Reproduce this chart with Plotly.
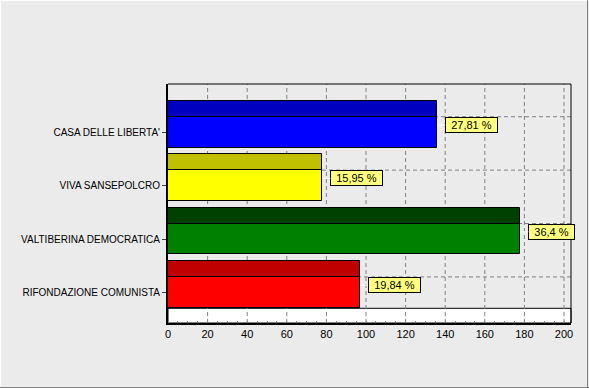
import plotly.graph_objects as go

categories = ["CASA DELLE LIBERTA'", "VIVA SANSEPOLCRO", "VALTIBERINA DEMOCRATICA", "RIFONDAZIONE COMUNISTA"]
values = [136, 78, 178, 97]
pct_labels = ["27,81 %", "15,95 %", "36,4 %", "19,84 %"]
front_colors = ["#0000FF", "#FFFF00", "#008000", "#FF0000"]
top_colors = ["#0000C0", "#C0C000", "#004000", "#C00000"]
x_ticks = [0, 20, 40, 60, 80, 100, 120, 140, 160, 180, 200]

W, H = 589, 388
ML, MR, MT, MB = 168, 18, 84, 65
PW, PH = W - ML - MR, H - MT - MB

idx = list(range(len(categories)))
depth = 0.44
FONT = "Liberation Sans, Arial, sans-serif"
GRID = dict(color="#808080", width=1, dash="4px,3px")
FLOOR = (323 - 308.3) / PH

fig = go.Figure()
# top (depth) faces
fig.add_trace(go.Bar(
    orientation="h", x=values, y=[i - depth for i in idx], width=0.30,
    marker=dict(color=top_colors, line=dict(color="black", width=1)),
    hoverinfo="skip", showlegend=False))
# front faces
fig.add_trace(go.Bar(
    orientation="h", x=values, y=idx, width=0.58,
    marker=dict(color=front_colors, line=dict(color="black", width=1)),
    hoverinfo="skip", showlegend=False))

shapes = []
# white floor
shapes.append(dict(type="rect", xref="x domain", yref="y domain", x0=0, x1=1, y0=0, y1=FLOOR,
                   fillcolor="white", line=dict(color="black", width=1), layer="below"))
# vertical gridlines
for t in x_ticks[1:]:
    shapes.append(dict(type="line", xref="x", yref="y domain", x0=t, x1=t, y0=0, y1=1,
                       line=GRID, layer="below"))
# horizontal back-wall gridlines
for i in idx:
    shapes.append(dict(type="line", xref="x domain", yref="y", x0=0, x1=1,
                       y0=i - 0.29, y1=i - 0.29, line=GRID, layer="below"))
# frame top / right
shapes.append(dict(type="line", xref="x domain", yref="y domain", x0=0, x1=1, y0=1, y1=1,
                   line=dict(color="black", width=1)))
shapes.append(dict(type="line", xref="x domain", yref="y domain", x0=1, x1=1, y0=0, y1=1,
                   line=dict(color="black", width=1)))

# outer bevel of the panel
def px2x(p):
    return (p - ML) / PW

def py2y(p):
    return (H - MB - p) / PH

shapes.append(dict(type="line", xref="paper", yref="paper", x0=px2x(0), x1=px2x(W), y0=py2y(0.5), y1=py2y(0.5),
                   line=dict(color="white", width=1)))
shapes.append(dict(type="line", xref="paper", yref="paper", x0=px2x(0.5), x1=px2x(0.5), y0=py2y(0), y1=py2y(H),
                   line=dict(color="white", width=1)))
shapes.append(dict(type="line", xref="paper", yref="paper", x0=px2x(0), x1=px2x(W), y0=py2y(387.5), y1=py2y(387.5),
                   line=dict(color="#808080", width=1)))
shapes.append(dict(type="line", xref="paper", yref="paper", x0=px2x(587.5), x1=px2x(587.5), y0=py2y(0), y1=py2y(H),
                   line=dict(color="#808080", width=1)))

annotations = []
for i, (v, t) in enumerate(zip(values, pct_labels)):
    annotations.append(dict(
        x=v, y=i - 0.135, xref="x", yref="y", text=t, showarrow=True,
        arrowhead=0, arrowcolor="white", arrowwidth=1, ax=8, ay=0,
        xanchor="left", yanchor="middle",
        width=(43 if len(t) < 7 else 49), height=12,
        bgcolor="#FFFF80", bordercolor="black", borderwidth=1, borderpad=1,
        font=dict(family=FONT, size=11, color="black")))

fig.update_layout(
    width=W, height=H,
    margin=dict(l=ML, r=MR, t=MT, b=MB, pad=0),
    paper_bgcolor="#EBEBEB", plot_bgcolor="rgba(0,0,0,0)",
    barmode="overlay", bargap=0,
    showlegend=False,
    font=dict(family=FONT, size=11, color="black"),
    shapes=shapes, annotations=annotations,
    xaxis=dict(range=[0, PW / 1.98], tickvals=x_ticks, ticktext=[str(t) for t in x_ticks],
               showgrid=False, zeroline=False, showline=True, linecolor="black", linewidth=2,
               ticks="", tickfont=dict(family=FONT, size=11, color="black"),
               minor=dict(dtick=5, ticks="inside", ticklen=2, tickcolor="#808080", showgrid=False),
               fixedrange=True),
    yaxis=dict(range=[3.573, -0.903], tickvals=idx, ticktext=categories,
               showgrid=False, zeroline=False, showline=True, linecolor="black", linewidth=2,
               ticks="outside", ticklen=4, tickcolor="#404040",
               tickfont=dict(family=FONT, size=10, color="black"), fixedrange=True),
)

fig.write_html("out.html")
